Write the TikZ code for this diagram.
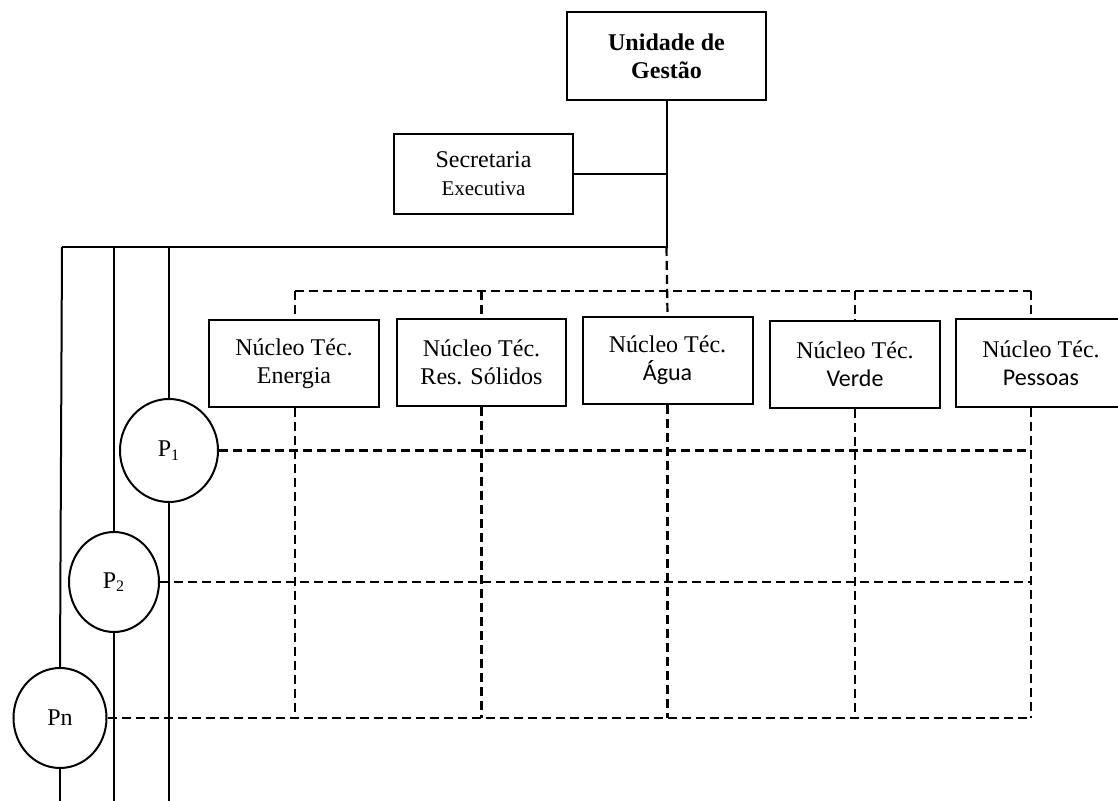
\documentclass[tikz,border=0pt]{standalone}
\usepackage{fontspec}
\setmainfont{Liberation Serif}
\newfontfamily\carlito{Carlito}
\usetikzlibrary{shapes.geometric}

\begin{document}
\begin{tikzpicture}[x=0.5pt, y=-0.5pt, font=\fontsize{12}{14}\selectfont,
  box/.style={draw, line width=1pt, align=center, inner sep=0pt},
  pnode/.style={draw, ellipse, line width=1pt, inner sep=0pt},
  link/.style={line width=1pt},
  dlink/.style={line width=1.1pt, dash pattern=on 4.5pt off 2.5pt}]

\useasboundingbox (0,0) rectangle (1118,801);

% Unidade de Gestao and Secretaria
\node[box, minimum width=99.5pt, minimum height=44pt, font=\fontsize{12}{14}\selectfont\bfseries] (ug) at (666.5,56) {Unidade de\\Gestão};
\node[box, minimum width=89.5pt, minimum height=40pt] (sec) at (483.5,174) {Secretaria\\{\fontsize{10.5}{13}\selectfont Executiva}};

% Nucleos tecnicos
\node[box, minimum width=85pt, minimum height=43.5pt] (ene) at (294,364) {Núcleo Téc.\\Energia};
\node[box, minimum width=84.5pt, minimum height=43.5pt] (res) at (481.5,362.5) {Núcleo Téc.\\Res. Sólidos};
\node[box, minimum width=85pt, minimum height=43.5pt] (agua) at (667.5,360.5) {Núcleo Téc.\\{\carlito Água}};
\node[box, line width=1.4pt, minimum width=85pt, minimum height=43.5pt] (verde) at (855,364.5) {Núcleo Téc.\\{\carlito Verde}};
\node[box, minimum width=85pt, minimum height=44pt] (pes) at (1041,363) {Núcleo Téc.\\{\carlito Pessoas}};

% Projetos
\node[pnode, minimum width=49pt, minimum height=51.5pt] (p1) at (169,450.5) {P\textsubscript{1}};
\node[pnode, minimum width=45pt, minimum height=50pt] (p2) at (114,582) {P\textsubscript{2}};
\node[pnode, minimum width=46.5pt, minimum height=50pt] (pn) at (60,718) {Pn};

% Coordinates of the lines
\coordinate (topL) at (62,247);
\coordinate (busL) at (295,291);
\coordinate (busR) at (1031,291);
\coordinate (bot) at (0,801);

% Solid lines
\draw[link] (ug.south) -- (ug.south |- topL) -- (topL);
\draw[link] (sec.east) -- (sec.east -| ug.south);
\draw[link] (topL) -- (pn.north);
\draw[link] (pn.south) -- (pn.south |- bot);
\draw[link] (p2.north |- topL) -- (p2.north);
\draw[link] (p2.south) -- (p2.south |- bot);
\draw[link] (p1.north |- topL) -- (p1.north);
\draw[link] (p1.south) -- (p1.south |- bot);

% Dashed bus to the nucleos
\draw[dlink] (ug.south |- topL) -- (agua.north);
\draw[dlink] (busL) -- (busR);
\draw[dlink] (busL) -- (busL |- ene.north);
\draw[dlink] (res.north |- busL) -- (res.north);
\draw[dlink] (verde.north |- busL) -- (verde.north);
\draw[dlink] (busR) -- (busR |- pes.north);

% Dashed matrix
\draw[dlink] (ene.south -| busL) -- (busL |- pn.east);
\draw[dlink] (res.south) -- (res.south |- pn.east);
\draw[dlink] (agua.south) -- (agua.south |- pn.east);
\draw[dlink] (verde.south) -- (verde.south |- pn.east);
\draw[dlink] (pes.south -| busR) -- (busR |- pn.east);
\draw[dlink] (p1.east) -- (p1.east -| busR);
\draw[dlink] (p2.east) -- (p2.east -| busR);
\draw[dlink] (pn.east) -- (pn.east -| busR);

\end{tikzpicture}
\end{document}
